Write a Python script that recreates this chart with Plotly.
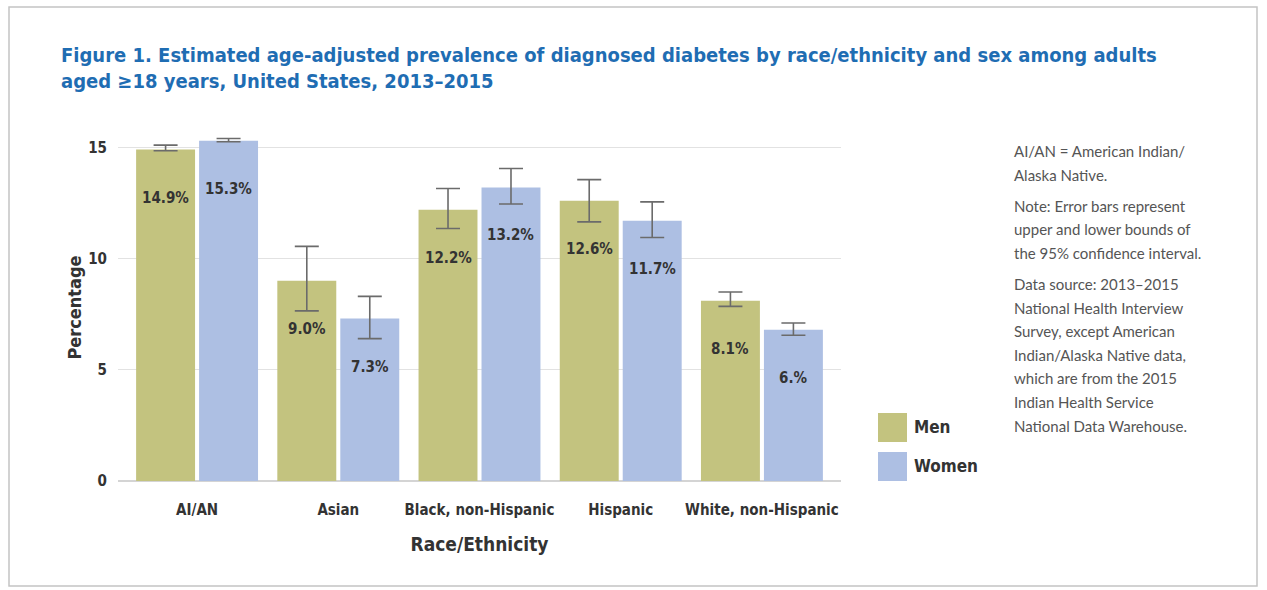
import plotly.graph_objects as go

categories = ["AI/AN", "Asian", "Black, non-Hispanic", "Hispanic", "White, non-Hispanic"]
men = [14.9, 9.0, 12.2, 12.6, 8.1]
women = [15.3, 7.3, 13.2, 11.7, 6.8]
men_upper = [15.1, 10.55, 13.15, 13.55, 8.5]
men_lower = [14.85, 7.65, 11.35, 11.65, 7.85]
women_upper = [15.4, 8.3, 14.05, 12.55, 7.1]
women_lower = [15.25, 6.4, 12.45, 10.95, 6.55]
men_labels = ["14.9%", "9.0%", "12.2%", "12.6%", "8.1%"]
women_labels = ["15.3%", "7.3%", "13.2%", "11.7%", "6.%"]
y_ticks = [0, 5, 10, 15]

title_text = ("Figure 1. Estimated age-adjusted prevalence of diagnosed diabetes by race/ethnicity and sex among adults"
              "<br>aged ≥18 years, United States, 2013–2015")
note_lines = [
    ["AI/AN = American Indian/", "Alaska Native."],
    ["Note: Error bars represent", "upper and lower bounds of", "the 95% confidence interval."],
    ["Data source: 2013–2015", "National Health Interview", "Survey, except American",
     "Indian/Alaska Native data,", "which are from the 2015", "Indian Health Service",
     "National Data Warehouse."],
]

MEN_C = "#c3c37f"
WOMEN_C = "#adbfe3"
COND = "DejaVu Sans Condensed, Liberation Sans Narrow, sans-serif"
TEXT_C = "#333333"

W, H = 1267, 590
L, R, T, B = 118, 426, 134, 109
PW, PH = W - L - R, H - T - B


def px_x(p):
    return (p - L) / PW


def px_y(p):
    return (H - B - p) / PH


fig = go.Figure()
fig.add_trace(go.Bar(
    name="Men", x=categories, y=men, marker=dict(color=MEN_C, line=dict(width=0)),
    error_y=dict(type="data", symmetric=False,
                 array=[u - v for u, v in zip(men_upper, men)],
                 arrayminus=[v - l for v, l in zip(men, men_lower)],
                 color="#6b6b6b", thickness=1.6, width=12),
))
fig.add_trace(go.Bar(
    name="Women", x=categories, y=women, marker=dict(color=WOMEN_C, line=dict(width=0)),
    error_y=dict(type="data", symmetric=False,
                 array=[u - v for u, v in zip(women_upper, women)],
                 arrayminus=[v - l for v, l in zip(women, women_lower)],
                 color="#6b6b6b", thickness=1.6, width=12),
))

BARGAP = 0.108
slot = (1 - BARGAP) / 2
annotations = []
for i, (vm, vw, lm, lw) in enumerate(zip(men, women, men_labels, women_labels)):
    annotations.append(dict(x=i - slot / 2, y=vm, xref="x", yref="y", text=lm, showarrow=False,
                            yshift=-48, font=dict(family=COND, size=15, color=TEXT_C, weight="bold")))
    annotations.append(dict(x=i + slot / 2, y=vw, xref="x", yref="y", text=lw, showarrow=False,
                            yshift=-48, font=dict(family=COND, size=15, color=TEXT_C, weight="bold")))

# title
annotations.append(dict(x=px_x(59), y=px_y(41), xref="paper", yref="paper", xanchor="left", yanchor="top",
                        align="left", showarrow=False, text=title_text,
                        font=dict(family=COND, size=20, color="#1f6db3", weight="bold")))

# note text
yline = 151
for pi, para in enumerate(note_lines):
    for line in para:
        annotations.append(dict(x=px_x(1012), y=px_y(yline), xref="paper", yref="paper", xanchor="left",
                                yanchor="middle", showarrow=False, text=line,
                                font=dict(family="Lato, Open Sans, sans-serif", size=15, color="#555555")))
        yline += 23.6
    yline += 7.5

shapes = [
    dict(type="rect", xref="paper", yref="paper", x0=px_x(9), x1=px_x(1257), y0=px_y(586), y1=px_y(7),
         line=dict(color="#c4c4c4", width=1.5), fillcolor="rgba(0,0,0,0)", layer="below"),
]
# legend
for name, color, top in [("Men", MEN_C, 413), ("Women", WOMEN_C, 452)]:
    shapes.append(dict(type="rect", xref="paper", yref="paper", x0=px_x(878), x1=px_x(907),
                       y0=px_y(top + 29), y1=px_y(top), line=dict(width=0), fillcolor=color))
    annotations.append(dict(x=px_x(912), y=px_y(top + 14), xref="paper", yref="paper", xanchor="left",
                            yanchor="middle", showarrow=False, text=name,
                            font=dict(family=COND, size=17, color=TEXT_C, weight="bold")))

fig.update_layout(
    width=W, height=H, margin=dict(l=L, r=R, t=T, b=B),
    paper_bgcolor="white", plot_bgcolor="white",
    barmode="group", bargap=BARGAP, bargroupgap=0.064,
    showlegend=False,
    annotations=annotations, shapes=shapes,
    xaxis=dict(range=[-0.56, 4.56], showgrid=False, showline=False, zeroline=False,
               ticks="", ticklabelstandoff=18,
               tickfont=dict(family=COND, size=15, color=TEXT_C, weight="bold"),
               title=dict(text="Race/Ethnicity", standoff=19,
                          font=dict(family=COND, size=19, color=TEXT_C, weight="bold"))),
    yaxis=dict(range=[0, 15.6], tickvals=y_ticks, showgrid=True, gridcolor="#e2e2e2", gridwidth=1.2,
               zeroline=True, zerolinecolor="#d4d4d4", zerolinewidth=1.5, showline=False,
               ticks="", ticklabelstandoff=10,
               tickfont=dict(family=COND, size=15, color=TEXT_C, weight="bold"),
               title=dict(text="Percentage", standoff=1,
                          font=dict(family=COND, size=18, color=TEXT_C, weight="bold"))),
)

fig.write_html("out.html")
